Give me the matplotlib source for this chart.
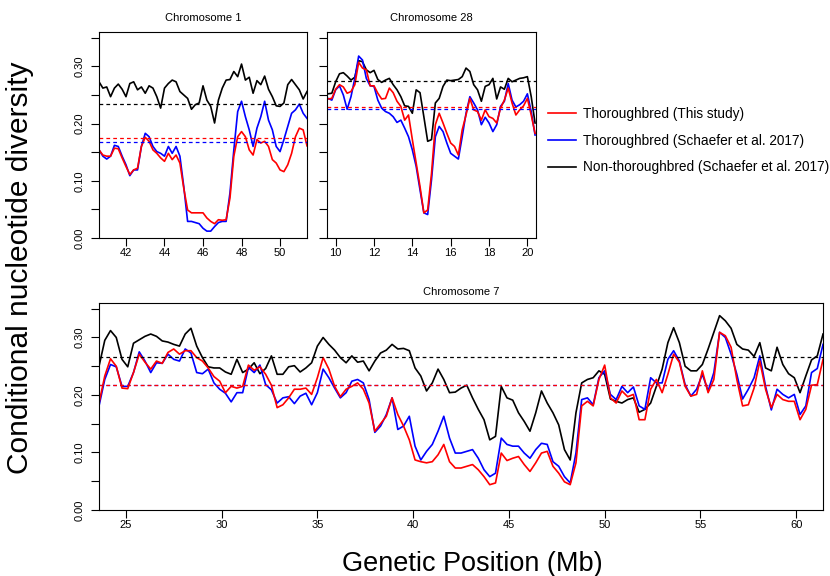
import matplotlib
matplotlib.use("Agg")
import matplotlib.pyplot as plt
import numpy as np

plt.rcParams['font.family'] = ['Liberation Sans', 'DejaVu Sans']

# ---- Chromosome 1 (41-51 Mb, step 0.2) ----
chr1_pos = np.round(np.arange(40.6, 51.41, 0.2), 2)
chr1_black = [.273, .262, .264, .247, .262, .269, .260, .247, .270, .273,
              .259, .264, .253, .266, .262, .247, .227, .262, .270, .276,
              .273, .256, .250, .244, .225, .233, .236, .266, .241, .230,
              .201, .241, .262, .276, .277, .291, .282, .304, .276, .281,
              .253, .275, .268, .283, .260, .247, .231, .230, .236, .268,
              .277, .268, .259, .243, .256]
chr1_blue = [.154, .143, .138, .143, .162, .160, .143, .128, .109, .119,
             .119, .160, .183, .177, .160, .151, .148, .143, .160, .148,
             .160, .143, .090, .029, .029, .027, .025, .017, .012, .012,
             .020, .027, .029, .029, .079, .154, .221, .239, .212, .189,
             .160, .192, .212, .239, .206, .189, .160, .151, .172, .195,
             .218, .224, .234, .218, .209]
chr1_red = [.154, .145, .143, .143, .157, .156, .140, .125, .111, .119,
            .122, .160, .176, .169, .154, .148, .140, .134, .148, .137,
            .145, .131, .087, .049, .044, .044, .044, .044, .035, .029,
            .025, .032, .031, .032, .070, .143, .177, .186, .177, .154,
            .145, .172, .166, .169, .160, .137, .131, .119, .116, .128,
            .148, .177, .192, .189, .161]
chr1_means = {'black': 0.234, 'blue': 0.1675, 'red': 0.1745}

# ---- Chromosome 28 (10-20 Mb, step 0.2) ----
chr28_pos = np.round(np.arange(9.6, 20.41, 0.2), 2)
chr28_black = [.252, .253, .273, .287, .289, .283, .276, .281, .310, .308,
               .294, .289, .293, .277, .272, .276, .279, .268, .259, .247,
               .231, .230, .218, .259, .254, .212, .169, .172, .236, .244,
               .265, .276, .275, .276, .277, .282, .297, .291, .268, .259,
               .239, .265, .268, .279, .243, .264, .260, .279, .273, .276,
               .279, .280, .282, .247, .201]
chr28_blue = [.244, .241, .259, .266, .250, .225, .247, .279, .318, .311,
              .279, .266, .265, .241, .227, .221, .218, .212, .202, .206,
              .192, .177, .154, .125, .084, .044, .041, .102, .177, .195,
              .186, .166, .148, .143, .138, .177, .218, .247, .236, .224,
              .198, .211, .201, .186, .198, .230, .239, .270, .241, .229,
              .233, .239, .252, .221, .180]
chr28_red = [.243, .244, .260, .268, .264, .253, .256, .268, .307, .297,
             .294, .266, .266, .253, .243, .244, .262, .254, .239, .230,
             .206, .215, .172, .131, .090, .044, .049, .113, .198, .218,
             .201, .183, .166, .160, .145, .189, .215, .244, .224, .221,
             .206, .224, .212, .209, .201, .227, .241, .262, .236, .215,
             .224, .231, .244, .215, .183]
chr28_means = {'black': 0.2746, 'blue': 0.2251, 'red': 0.2298}

# ---- Chromosome 7 (24-61 Mb, step 0.3) ----
chr7_pos = np.round(np.arange(23.6, 61.41, 0.3), 2)
chr7_black = [.250, .295, .312, .300, .262, .249, .290, .296, .302, .306,
              .302, .294, .292, .288, .285, .306, .316, .285, .265, .249,
              .247, .247, .240, .236, .262, .239, .245, .256, .237, .246,
              .268, .236, .236, .249, .251, .240, .247, .256, .285, .300,
              .288, .278, .265, .256, .268, .257, .259, .242, .259, .273,
              .278, .288, .280, .281, .277, .247, .233, .207, .221, .245,
              .227, .204, .205, .212, .217, .195, .175, .157, .122, .128,
              .215, .195, .191, .169, .154, .137, .169, .207, .186, .169,
              .148, .105, .087, .169, .221, .227, .230, .242, .236, .193,
              .189, .186, .192, .195, .170, .175, .186, .215, .245, .291,
              .317, .291, .250, .242, .242, .253, .280, .309, .338, .329,
              .316, .288, .280, .278, .267, .291, .247, .242, .283, .253,
              .237, .230, .204, .233, .261, .268, .306]
chr7_blue = [.181, .227, .253, .249, .215, .215, .239, .275, .259, .239,
             .256, .255, .271, .262, .259, .280, .273, .239, .237, .245,
             .221, .210, .203, .188, .204, .204, .248, .239, .252, .218,
             .209, .186, .195, .197, .185, .198, .203, .183, .204, .245,
             .230, .212, .195, .204, .224, .227, .221, .192, .135, .146,
             .166, .195, .140, .146, .163, .111, .087, .102, .114, .137,
             .163, .125, .099, .099, .102, .105, .090, .070, .058, .064,
             .125, .114, .111, .111, .099, .090, .105, .116, .114, .084,
             .076, .058, .047, .099, .192, .195, .183, .230, .242, .201,
             .192, .215, .204, .214, .181, .175, .230, .221, .221, .262,
             .277, .259, .218, .198, .210, .236, .207, .239, .309, .300,
             .271, .236, .193, .210, .230, .268, .215, .174, .210, .201,
             .195, .201, .166, .181, .239, .246, .288]
chr7_red = [.186, .233, .263, .250, .212, .211, .239, .271, .257, .245,
            .259, .255, .274, .280, .271, .277, .277, .265, .259, .247,
            .232, .224, .204, .215, .212, .215, .252, .243, .249, .236,
            .217, .178, .183, .195, .210, .210, .212, .201, .230, .265,
            .245, .215, .197, .210, .215, .221, .210, .186, .137, .150,
            .163, .195, .166, .146, .122, .087, .084, .082, .084, .096,
            .114, .084, .073, .073, .076, .079, .070, .058, .044, .047,
            .099, .086, .090, .093, .079, .067, .082, .099, .102, .076,
            .064, .049, .044, .082, .181, .189, .181, .227, .252, .195,
            .186, .207, .197, .201, .157, .157, .210, .227, .204, .236,
            .271, .257, .215, .198, .201, .242, .204, .227, .309, .303,
            .283, .227, .181, .183, .212, .259, .210, .178, .201, .192,
            .189, .189, .157, .175, .217, .218, .262]
chr7_means = {'black': 0.2667, 'blue': 0.2175, 'red': 0.218}

labels = ['Thoroughbred (This study)',
          'Thoroughbred (Schaefer et al. 2017)',
          'Non-thoroughbred (Schaefer et al. 2017)']
colors = {'red': '#ff0000', 'blue': '#0000ff', 'black': '#000000'}

y_ticks = [0, 0.05, 0.10, 0.15, 0.20, 0.25, 0.30, 0.35]
y_ticklabels = ['0.00', '', '0.10', '', '0.20', '', '0.30', '']


def draw_panel(ax, pos, black, blue, red, means, xlim, xticks, title, title_pad, show_ylab=True):
    hb, = ax.plot(pos, black, color=colors['black'], lw=1.2)
    hbl, = ax.plot(pos, blue, color=colors['blue'], lw=1.2)
    hr, = ax.plot(pos, red, color=colors['red'], lw=1.2)
    for key in ['black', 'blue', 'red']:
        ax.axhline(means[key], color=colors[key], lw=0.9, dashes=(3, 2.5))
    ax.set_xlim(xlim)
    ax.set_ylim(0, 0.36)
    ax.set_xticks(xticks)
    ax.set_yticks(y_ticks, y_ticklabels if show_ylab else [''] * len(y_ticks))
    ax.tick_params(axis='both', direction='out', length=5.5, width=0.8, labelsize=8)
    ax.tick_params(axis='x', pad=1.5)
    ax.tick_params(axis='y', pad=5, labelrotation=90)
    for lbl in ax.get_yticklabels():
        lbl.set_va('center')
    for sp in ax.spines.values():
        sp.set_linewidth(0.8)
    ax.set_title(title, fontsize=8, pad=title_pad)
    return hr, hbl, hb


def main():
    fig = plt.figure(figsize=(8.3, 5.76), dpi=100)
    ax1 = fig.add_axes([0.1193, 0.5868, 0.2506, 0.3576])
    ax2 = fig.add_axes([0.394, 0.5868, 0.2518, 0.3576])
    ax3 = fig.add_axes([0.1193, 0.1146, 0.8723, 0.3594])

    handles = draw_panel(ax1, chr1_pos, chr1_black, chr1_blue, chr1_red, chr1_means,
                         (40.6, 51.4), [42, 44, 46, 48, 50], 'Chromosome 1', 8)
    draw_panel(ax2, chr28_pos, chr28_black, chr28_blue, chr28_red, chr28_means,
               (9.55, 20.45), [10, 12, 14, 16, 18, 20], 'Chromosome 28', 8, show_ylab=False)
    draw_panel(ax3, chr7_pos, chr7_black, chr7_blue, chr7_red, chr7_means,
               (23.6, 61.4), [25, 30, 35, 40, 45, 50, 55, 60], 'Chromosome 7', 6)

    fig.legend(handles, labels, loc='upper left', bbox_to_anchor=(0.660, 0.814),
               frameon=False, fontsize=9.8, handlelength=2.05, handletextpad=0.5,
               labelspacing=0.93, borderpad=0, borderaxespad=0)

    fig.text(0.024, 0.536, 'Conditional nucleotide diversity', rotation=90,
             ha='center', va='center', fontsize=21.5)
    fig.text(0.569, 0.021, 'Genetic Position (Mb)', ha='center', va='center', fontsize=19.5)

    plt.savefig('out.png', dpi=100)


if __name__ == "__main__":
    main()
